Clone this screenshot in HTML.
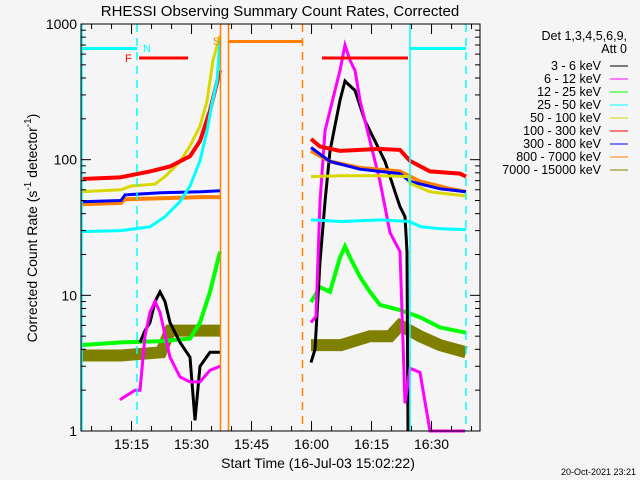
<!DOCTYPE html>
<html><head><meta charset="utf-8"><style>
html,body{margin:0;padding:0;background:#f5f5f5;}
svg{display:block;font-family:"Liberation Sans",sans-serif;}
</style></head><body>
<svg id="chart" width="640" height="480" viewBox="0 0 640 480" xmlns="http://www.w3.org/2000/svg">
<rect x="0" y="0" width="640" height="480" fill="#f5f5f5"/>
<text x="280" y="16" font-size="15" text-anchor="middle" fill="#000">RHESSI Observing Summary Count Rates, Corrected</text>
<text x="318" y="468" font-size="14" text-anchor="middle" fill="#000">Start Time (16-Jul-03 15:02:22)</text>
<text transform="translate(37,228) rotate(-90)" font-size="14" text-anchor="middle" fill="#000">Corrected Count Rate (s<tspan font-size="10" dy="-6">-1</tspan><tspan dy="6"> detector</tspan><tspan font-size="10" dy="-6">-1</tspan><tspan dy="6">)</tspan></text>
<text x="636" y="475" font-size="9" text-anchor="end" fill="#000">20-Oct-2021 23:21</text>
<g id="marks"></g>
<g id="axes"></g>
<g id="legend"></g>
</svg>
<script>
// ---- data (minutes since 15:02:22, values in counts/s/detector) ----
const yTicks = [1, 10, 100, 1000];
const yTickLabels = ["1", "10", "100", "1000"];
const xTickMinutes = [12.633, 27.633, 42.633, 57.633, 72.633, 87.633];
const xTickLabels = ["15:15", "15:30", "15:45", "16:00", "16:15", "16:30"];
const seriesNames = ["3 - 6 keV","6 - 12 keV","12 - 25 keV","25 - 50 keV","50 - 100 keV","100 - 300 keV","300 - 800 keV","800 - 7000 keV","7000 - 15000 keV"];
const seriesColors = ["#000000","#ff00ff","#00ff00","#00ffff","#d8d800","#ff0000","#0000ff","#ff8000","#808000"];

const t1 = [14.75,16,17.25,18.5,19.75,21,22.25,24.75,27.25,28.5,29.75,32.25,34.75,null,57.5,58.5,59.75,61,62.25,64.75,66,67.25,68.5,71,73.5,76,78.5,79.75,81,81.5,81.75];
const v1 = [4.5,5.5,6.3,9,10.6,9,6.3,4.5,3.5,1.2,3,3.8,3.8,null,3.2,4,17.6,49,116,274,380,350,324,193,137,97,58,45,38,21,1];
const t2 = [9.75,13.5,14.75,16,17.25,18.5,19.75,22.25,24.75,27.25,29.75,32.25,34.75,null,57.5,58.75,59.75,61,62.25,63.5,64.75,66,67.25,68.5,69.75,72.25,74.75,77.25,79.75,81,82.25,84.75,87.25,90,96];
const v2 = [1.7,2,2,5,7.5,9,7.5,3.5,2.5,2.3,2.3,2.8,3,null,6.3,7,49,163,230,324,455,700,540,455,274,137,69,29,21,1.6,2.9,2.7,1,1,1];
const t3 = [0,10,20,27.25,29.75,32.25,34.75,null,57.5,59.75,62.25,64.75,66,67.25,69.75,72.25,74.75,79.75,84.75,89.75,96.25];
const v3 = [4.3,4.5,4.6,4.8,6.3,10.6,21,null,8.9,11.5,10.6,19,23,19,13.7,10.6,8.5,7.8,6.9,5.8,5.3];
const t4 = [0,10,17.25,21,24.75,27.25,29.75,31.5,32.75,34,34.75,null,57.5,65,75,82,85,90,96.25];
const v4 = [29.5,30,32,38,49,64,98,163,260,380,760,null,36,35,36,35,32,31,30.5];
const t5 = [0,10,12.5,18.5,21,24.75,27.25,29.75,31.5,33,34.75,null,57.5,65,75,82,82.25,87.25,96.25];
const v5 = [58,60,64,66,75,97,126,177,270,540,820,null,75,76,76,75,67,58,54];
const t6 = [0,9.75,17.25,22.25,27.25,29.75,32.25,33.5,34.75,null,57.5,59.75,64.75,74.75,79.75,82.25,87.25,94.75,96.25];
const v6 = [72,74,82,89,106,137,230,324,455,null,142,125,116,120,118,98,82,79,75];
const t7 = [0,10,11,20,30,34.75,null,57.5,62.25,69.75,79.75,82.25,89.75,96.25];
const v7 = [49,50,55,57,58,59,null,123,97,85,79,69,61,58];
const t8 = [0,10,11,20,30,34.75,null,57.5,62.25,69.75,79.75,84.75,92.25,96.25];
const v8 = [47,48,51,52,53,53,null,116,97,87,82,69,61,58];
const t9 = [0,10,20,22.25,30,34.75,null,57.5,65,72.25,77.25,79.75,84.75,89.75,96.25];
const v9 = [3.6,3.6,3.8,5.5,5.5,5.5,null,4.3,4.3,5,5,6,5,4.3,3.8];
const seriesT = [t1,t2,t3,t4,t5,t6,t7,t8,t9];
const seriesV = [v1,v2,v3,v4,v5,v6,v7,v8,v9];
const seriesWidths = [3,3,4,3,3,4,3,4,12];

// ---- scales ----
const X0=81, X1=480, Y0=431, Y1=24;
const T0=0, T1=99.75;
function xs(t){ return X0 + (t - T0) / (T1 - T0) * (X1 - X0); }
function ys(v){ return Y0 - (Math.log10(v) - 0) / 3 * (Y0 - Y1); }
const NS="http://www.w3.org/2000/svg";
function mk(tag, attrs, parent){ const e=document.createElementNS(NS,tag); for(const k in attrs) e.setAttribute(k,attrs[k]); parent.appendChild(e); return e; }
const marks=document.getElementById('marks');
const axes=document.getElementById('axes');
const legend=document.getElementById('legend');

const order=[8,2,0,1,7,6,4,5,3];
order.forEach(i=>{
  const T=seriesT[i], V=seriesV[i];
  let d="", start=true;
  for(let k=0;k<T.length;k++){
    if(T[k]===null){ start=true; continue; }
    const x=xs(T[k]).toFixed(1), y=ys(V[k]).toFixed(1);
    d += (start?"M":"L")+x+" "+y; start=false;
  }
  const p=mk('path',{d:d,fill:'none',stroke:seriesColors[i],'stroke-width':seriesWidths[i],'stroke-linejoin':'miter'},marks);
  
  
});

function vline(x,color,dash,name){
  const l=mk('line',{x1:x,y1:Y1,x2:x,y2:Y0,stroke:color,'stroke-width':1.5},marks);
  if(dash) l.setAttribute('stroke-dasharray','8,6');
  
  
}
vline(82,'#00ffff',false,'night-start-line');
vline(137,'#00ffff',true,'night-end-line');
vline(410,'#00ffff',false,'night-start-line-2');
vline(466,'#00ffff',true,'night-end-line-2');
vline(220.5,'#ff8000',false,'saa-start-line');
vline(228.5,'#ff8000',false,'saa-line');
vline(302.5,'#ff8000',true,'saa-end-line');
function hbar(x1,x2,y,color,name){
  const l=mk('line',{x1:x1,y1:y,x2:x2,y2:y,stroke:color,'stroke-width':3},marks);
  
  
}
hbar(81,137,48.5,'#00ffff','night-bar');
hbar(410,466,48.5,'#00ffff','night-bar-2');
hbar(139,188,58,'#ff0000','flare-bar');
hbar(322,408,58,'#ff0000','flare-bar-2');
hbar(229,302,41.5,'#ff8000','saa-bar');
function lbl(x,y,txt,color,name){
  const t=mk('text',{x:x,y:y,fill:color,'font-size':11},marks); t.textContent=txt;
  
  
}
lbl(143,52,'N','#00ffff','night-label');
lbl(125,62,'F','#ff0000','flare-label');
lbl(213,45,'S','#ff8000','saa-label');

const fr=mk('rect',{x:X0,y:Y1,width:X1-X0,height:Y0-Y1,fill:'none',stroke:'#000','stroke-width':1},axes);


const firstMinor = xTickMinutes[0]-10;
for(let t=firstMinor; t<=T1; t+=5){
  if(t<T0) continue;
  const x=xs(t);
  const major = xTickMinutes.some(mt=>Math.abs(mt-t)<0.01);
  const len = major?10:5;
  const a=mk('line',{x1:x,y1:Y0,x2:x,y2:Y0-len,stroke:'#000'},axes);
  
  
  const b=mk('line',{x1:x,y1:Y1,x2:x,y2:Y1+len,stroke:'#000'},axes);
  
  
}
xTickMinutes.forEach((t,i)=>{
  const tx=mk('text',{x:xs(t),y:Y0+18,'font-size':14,'text-anchor':'middle',fill:'#000'},axes);
  tx.textContent=xTickLabels[i];
  
  
});
for(let d=0; d<3; d++){
  for(let k=1;k<=9;k++){
    const v=Math.pow(10,d)*k; const y=ys(v); const len=k===1?10:5;
    const a=mk('line',{x1:X0,y1:y,x2:X0+len,y2:y,stroke:'#000'},axes);
    
    
    const b=mk('line',{x1:X1,y1:y,x2:X1-len,y2:y,stroke:'#000'},axes);
    
    
  }
}
yTicks.forEach((v,i)=>{
  const tx=mk('text',{x:X0-4,y:ys(v)+5,'font-size':14,'text-anchor':'end',fill:'#000'},axes);
  tx.textContent=yTickLabels[i];
  
  
});

const h1=mk('text',{x:627,y:40,'font-size':12.5,'text-anchor':'end',fill:'#000'},legend);
h1.textContent='Det 1,3,4,5,6,9,';


const h2=mk('text',{x:627,y:53,'font-size':12.5,'text-anchor':'end',fill:'#000'},legend);
h2.textContent='Att 0';


seriesNames.forEach((n,i)=>{
  const y=66+i*13;
  const tx=mk('text',{x:601,y:y+4,'font-size':12.5,'text-anchor':'end',fill:'#000'},legend);
  tx.textContent=n;
  
  
  const ln=mk('line',{x1:610,y1:y,x2:628,y2:y,stroke:seriesColors[i],'stroke-width':1},legend);
  
  
});
</script>
</body></html>
